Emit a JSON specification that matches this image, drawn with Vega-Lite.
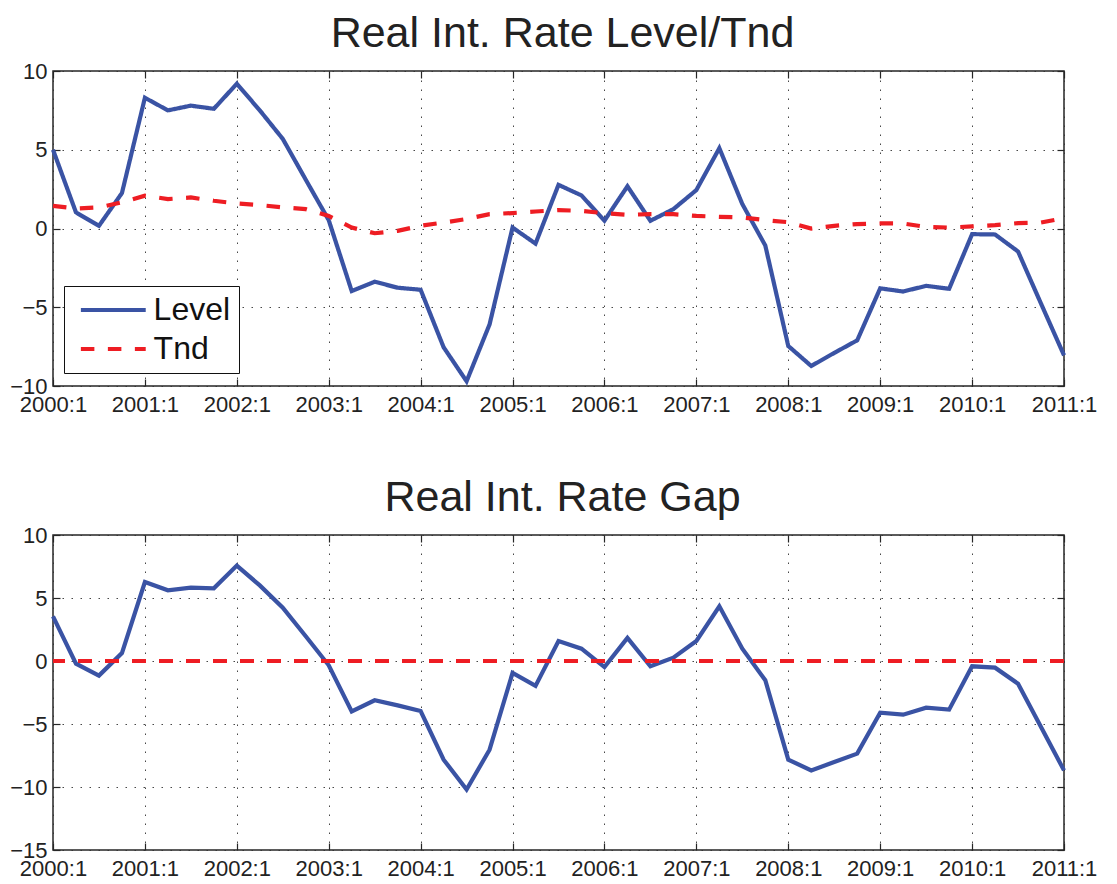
{
  "$schema": "https://vega.github.io/schema/vega-lite/v6.json",
  "background": "white",
  "padding": {"left": 8, "top": 12, "right": 10, "bottom": 2},
  "spacing": 60,
  "data": {
    "values": [
      {"t": 2000.00, "Level": 5.0, "Tnd": 1.44, "Gap": 3.54},
      {"t": 2000.25, "Level": 1.02, "Tnd": 1.27, "Gap": -0.21},
      {"t": 2000.50, "Level": 0.17, "Tnd": 1.34, "Gap": -1.16},
      {"t": 2000.75, "Level": 2.25, "Tnd": 1.66, "Gap": 0.63},
      {"t": 2001.00, "Level": 8.3, "Tnd": 2.08, "Gap": 6.27},
      {"t": 2001.25, "Level": 7.5, "Tnd": 1.87, "Gap": 5.61},
      {"t": 2001.50, "Level": 7.8, "Tnd": 1.97, "Gap": 5.82},
      {"t": 2001.75, "Level": 7.6, "Tnd": 1.76, "Gap": 5.77},
      {"t": 2002.00, "Level": 9.19, "Tnd": 1.59, "Gap": 7.57},
      {"t": 2002.25, "Level": 7.5, "Tnd": 1.49, "Gap": 6.0},
      {"t": 2002.50, "Level": 5.69, "Tnd": 1.34, "Gap": 4.23},
      {"t": 2002.75, "Level": 3.1, "Tnd": 1.23, "Gap": 1.96},
      {"t": 2003.00, "Level": 0.53, "Tnd": 0.8, "Gap": -0.34},
      {"t": 2003.25, "Level": -3.97, "Tnd": 0.06, "Gap": -4.0},
      {"t": 2003.50, "Level": -3.38, "Tnd": -0.3, "Gap": -3.12},
      {"t": 2003.75, "Level": -3.76, "Tnd": -0.15, "Gap": -3.52},
      {"t": 2004.00, "Level": -3.89, "Tnd": 0.17, "Gap": -3.97},
      {"t": 2004.25, "Level": -7.54, "Tnd": 0.38, "Gap": -7.83},
      {"t": 2004.50, "Level": -9.7, "Tnd": 0.6, "Gap": -10.2},
      {"t": 2004.75, "Level": -6.09, "Tnd": 0.91, "Gap": -7.04},
      {"t": 2005.00, "Level": 0.06, "Tnd": 0.98, "Gap": -0.95},
      {"t": 2005.25, "Level": -0.96, "Tnd": 1.08, "Gap": -1.98},
      {"t": 2005.50, "Level": 2.77, "Tnd": 1.17, "Gap": 1.59},
      {"t": 2005.75, "Level": 2.1, "Tnd": 1.12, "Gap": 0.98},
      {"t": 2006.00, "Level": 0.5, "Tnd": 0.97, "Gap": -0.48},
      {"t": 2006.25, "Level": 2.68, "Tnd": 0.87, "Gap": 1.83},
      {"t": 2006.50, "Level": 0.49, "Tnd": 0.91, "Gap": -0.42},
      {"t": 2006.75, "Level": 1.23, "Tnd": 0.91, "Gap": 0.26},
      {"t": 2007.00, "Level": 2.44, "Tnd": 0.8, "Gap": 1.59},
      {"t": 2007.25, "Level": 5.1, "Tnd": 0.74, "Gap": 4.34},
      {"t": 2007.50, "Level": 1.55, "Tnd": 0.7, "Gap": 0.98},
      {"t": 2007.75, "Level": -1.08, "Tnd": 0.53, "Gap": -1.53},
      {"t": 2008.00, "Level": -7.46, "Tnd": 0.4, "Gap": -7.83},
      {"t": 2008.25, "Level": -8.73, "Tnd": 0.0, "Gap": -8.68},
      {"t": 2008.50, "Level": -7.9, "Tnd": 0.17, "Gap": -8.02},
      {"t": 2008.75, "Level": -7.1, "Tnd": 0.28, "Gap": -7.35},
      {"t": 2009.00, "Level": -3.8, "Tnd": 0.32, "Gap": -4.1},
      {"t": 2009.25, "Level": -4.0, "Tnd": 0.32, "Gap": -4.26},
      {"t": 2009.50, "Level": -3.64, "Tnd": 0.1, "Gap": -3.7},
      {"t": 2009.75, "Level": -3.83, "Tnd": 0.06, "Gap": -3.86},
      {"t": 2010.00, "Level": -0.36, "Tnd": 0.13, "Gap": -0.42},
      {"t": 2010.25, "Level": -0.38, "Tnd": 0.21, "Gap": -0.53},
      {"t": 2010.50, "Level": -1.46, "Tnd": 0.34, "Gap": -1.8},
      {"t": 2010.75, "Level": -4.77, "Tnd": 0.38, "Gap": -5.24},
      {"t": 2011.00, "Level": -8.05, "Tnd": 0.66, "Gap": -8.68}
    ]
  },
  "vconcat": [
    {
      "width": 1011,
      "height": 315,
      "title": {"text": "Real Int. Rate Level/Tnd", "dx": 4},
      "transform": [{"fold": ["Level", "Tnd"], "as": ["series", "value"]}],
      "resolve": {"axis": {"x": "independent", "y": "independent"}},
      "layer": [
        {
          "mark": {"type": "line", "strokeWidth": 4.2},
          "encoding": {
            "x": {"field": "t", "type": "quantitative", "scale": {"domain": [2000, 2011], "nice": false, "zero": false},
                  "axis": {"orient": "bottom", "values": [2000,2001,2002,2003,2004,2005,2006,2007,2008,2009,2010,2011], "labelExpr": "datum.value + ':1'", "grid": true, "labelPadding": 15}},
            "y": {"field": "value", "type": "quantitative", "scale": {"domain": [-10, 10], "nice": false, "zero": false},
                  "axis": {"orient": "left", "values": [-10,-5,0,5,10], "grid": true, "labelPadding": 13}},
            "color": {"field": "series", "type": "nominal", "scale": {"domain": ["Level", "Tnd"], "range": ["#3A53A4", "#EE1D23"]},
                      "legend": {"orient": "none", "legendX": 11, "legendY": 215, "title": null}},
            "strokeDash": {"field": "series", "type": "nominal", "scale": {"domain": ["Level", "Tnd"], "range": [[1, 0], [13.5, 13.5]]},
                      "legend": {"orient": "none", "legendX": 11, "legendY": 215, "title": null}}
          }
        },
        {
          "mark": {"type": "line", "opacity": 0},
          "encoding": {
            "x": {"field": "t", "type": "quantitative", "scale": {"domain": [2000, 2011], "nice": false, "zero": false},
                  "axis": {"orient": "top", "values": [2000,2001,2002,2003,2004,2005,2006,2007,2008,2009,2010,2011], "labels": false, "grid": false}},
            "y": {"field": "value", "type": "quantitative", "scale": {"domain": [-10, 10], "nice": false, "zero": false},
                  "axis": {"orient": "right", "values": [-10,-5,0,5,10], "labels": false, "grid": false}},
            "detail": {"field": "series"}
          }
        }
      ]
    },
    {
      "width": 1011,
      "height": 315,
      "title": {"text": "Real Int. Rate Gap", "dx": 4},
      "resolve": {"axis": {"x": "independent", "y": "independent"}},
      "layer": [
        {
          "mark": {"type": "line", "strokeWidth": 4.2, "color": "#3A53A4"},
          "encoding": {
            "x": {"field": "t", "type": "quantitative", "scale": {"domain": [2000, 2011], "nice": false, "zero": false},
                  "axis": {"orient": "bottom", "values": [2000,2001,2002,2003,2004,2005,2006,2007,2008,2009,2010,2011], "labelExpr": "datum.value + ':1'", "grid": true, "labelPadding": 15}},
            "y": {"field": "Gap", "type": "quantitative", "scale": {"domain": [-15, 10], "nice": false, "zero": false},
                  "axis": {"orient": "left", "values": [-15,-10,-5,0,5,10], "grid": true, "labelPadding": 13}}
          }
        },
        {
          "mark": {"type": "rule", "strokeWidth": 4.2, "color": "#EE1D23", "strokeDash": [13.5, 13.5]},
          "encoding": {"y": {"datum": 0, "axis": null}}
        },
        {
          "mark": {"type": "line", "opacity": 0},
          "encoding": {
            "x": {"field": "t", "type": "quantitative", "scale": {"domain": [2000, 2011], "nice": false, "zero": false},
                  "axis": {"orient": "top", "values": [2000,2001,2002,2003,2004,2005,2006,2007,2008,2009,2010,2011], "labels": false, "grid": false}},
            "y": {"field": "Gap", "type": "quantitative", "scale": {"domain": [-15, 10], "nice": false, "zero": false},
                  "axis": {"orient": "right", "values": [-15,-10,-5,0,5,10], "labels": false, "grid": false}}
          }
        }
      ]
    }
  ],
  "config": {
    "font": "Liberation Sans",
    "view": {"stroke": "#262626", "strokeWidth": 1.5},
    "axis": {
      "title": null,
      "domain": false,
      "labelFontSize": 22,
      "labelColor": "#222222",
      "labelFlush": false,
      "labelOverlap": false,
      "tickColor": "#262626",
      "tickSize": -7,
      "tickWidth": 1.2,
      "gridColor": "#333333",
      "gridDash": [1.5, 7.5],
      "gridOpacity": 0.9,
      "gridWidth": 1
    },
    "title": {"fontSize": 43, "fontWeight": "normal", "color": "#222222", "offset": 4, "baseline": "alphabetic", "anchor": "middle", "frame": "group"},
    "legend": {
      "symbolType": "M-2.9,0H2.9",
      "symbolSize": 500,
      "symbolStrokeWidth": 4.2,
      "symbolOffset": 25.3,
      "labelFontSize": 32,
      "labelColor": "#111111",
      "labelOffset": 24.3,
      "rowPadding": 7,
      "padding": 8,
      "strokeColor": "#111111",
      "fillColor": "white",
      "labelLimit": 300
    }
  }
}
